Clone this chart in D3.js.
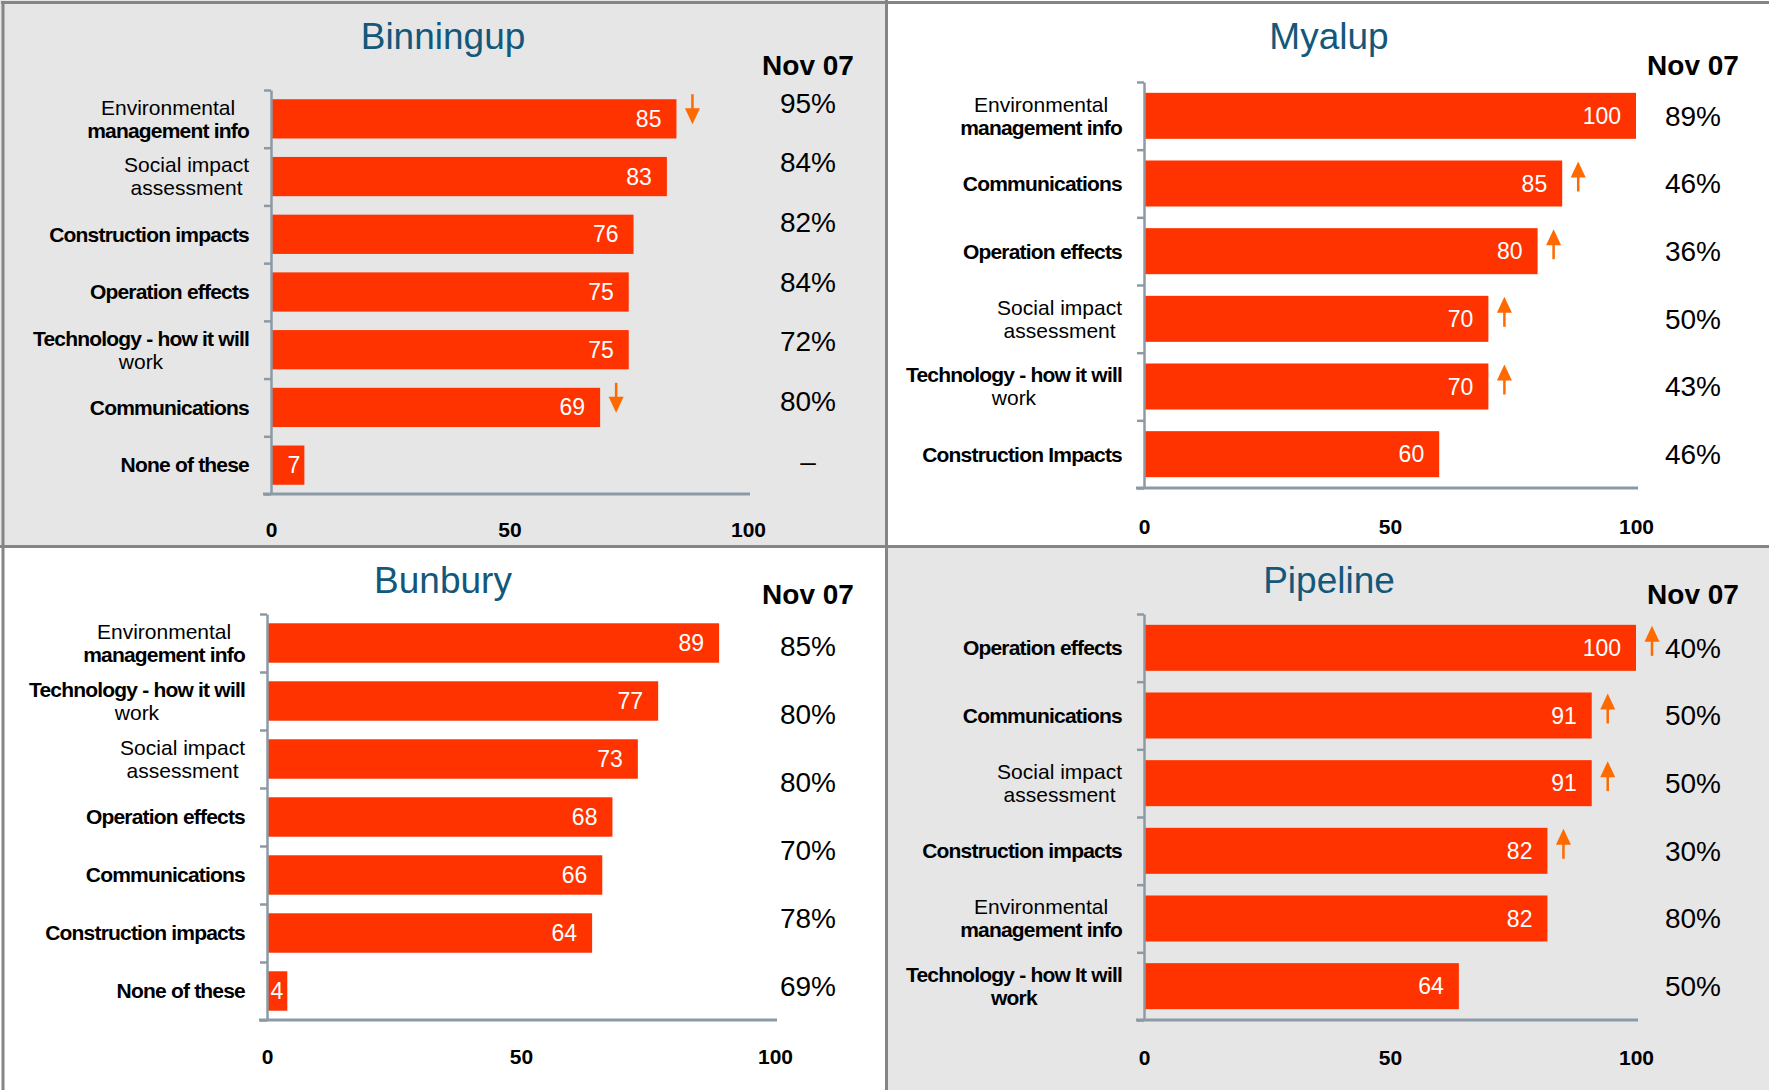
<!DOCTYPE html>
<html>
<head>
<meta charset="utf-8">
<script src="https://cdn.jsdelivr.net/npm/d3@7"></script>
<style>
body { margin: 0; background: #fff; }
svg { display: block; font-family: "Liberation Sans", Arial, sans-serif; }
</style>
</head>
<body>
<svg></svg>
<script>
var width = 1769,
    height = 1090;

// ---- data ----
var titles = ["Binningup", "Myalup", "Bunbury", "Pipeline"];
var tickValues = [0, 50, 100];
var periodLabel = "Nov 07";

var binningupCategories = ["Environmental\nmanagement info", "Social impact\nassessment", "Construction impacts",
    "Operation effects", "Technology - how it will\nwork", "Communications", "None of these"];
var binningupValues = [85, 83, 76, 75, 75, 69, 7];
var binningupNov07 = ["95%", "84%", "82%", "84%", "72%", "80%", "–"];
var binningupTrend = ["down", "", "", "", "", "down", ""];

var myalupCategories = ["Environmental\nmanagement info", "Communications", "Operation effects",
    "Social impact\nassessment", "Technology - how it will\nwork", "Construction Impacts"];
var myalupValues = [100, 85, 80, 70, 70, 60];
var myalupNov07 = ["89%", "46%", "36%", "50%", "43%", "46%"];
var myalupTrend = ["", "up", "up", "up", "up", ""];

var bunburyCategories = ["Environmental\nmanagement info", "Technology - how it will\nwork", "Social impact\nassessment",
    "Operation effects", "Communications", "Construction impacts", "None of these"];
var bunburyValues = [89, 77, 73, 68, 66, 64, 4];
var bunburyNov07 = ["85%", "80%", "80%", "70%", "78%", "69%"];
var bunburyTrend = ["", "", "", "", "", "", ""];

var pipelineCategories = ["Operation effects", "Communications", "Social impact\nassessment",
    "Construction impacts", "Environmental\nmanagement info", "Technology - how It will\nwork"];
var pipelineValues = [100, 91, 91, 82, 82, 64];
var pipelineNov07 = ["40%", "50%", "50%", "30%", "80%", "50%"];
var pipelineTrend = ["up", "up", "up", "up", "", ""];

// ---- layout ----
var barColor = "#ff3300",
    arrowColor = "#ff6a00",
    axisColor = "#8c9aa6",
    titleColor = "#13587a",
    borderColor = "#858585",
    grayBg = "#e6e6e6";

var panels = [
    { title: titles[0], categories: binningupCategories, values: binningupValues, nov07: binningupNov07, trend: binningupTrend,
      box: [0, 0, 886, 546], bg: grayBg, axisX: 271, axisTop: 90, axisBottom: 494, x100: 748,
      pctX: 808, pctRange: [103, 461], titleX: 443, titleY: 36, novY: 65, tickY: 529,
      plain: ["Environmental", "Social impact", "assessment", "work"] },
    { title: titles[1], categories: myalupCategories, values: myalupValues, nov07: myalupNov07, trend: myalupTrend,
      box: [886, 0, 883, 546], bg: "#fff", axisX: 1144, axisTop: 82, axisBottom: 488, x100: 1636,
      pctX: 1693, pctRange: null, titleX: 1329, titleY: 36, novY: 65, tickY: 526,
      plain: ["Environmental", "Social impact", "assessment", "work"] },
    { title: titles[2], categories: bunburyCategories, values: bunburyValues, nov07: bunburyNov07, trend: bunburyTrend,
      box: [0, 546, 886, 544], bg: "#fff", axisX: 267, axisTop: 614, axisBottom: 1020, x100: 775,
      pctX: 808, pctRange: [646, 986], titleX: 443, titleY: 580, novY: 594, tickY: 1056,
      plain: ["Environmental", "Social impact", "assessment", "work"] },
    { title: titles[3], categories: pipelineCategories, values: pipelineValues, nov07: pipelineNov07, trend: pipelineTrend,
      box: [886, 546, 883, 544], bg: grayBg, axisX: 1144, axisTop: 614, axisBottom: 1020, x100: 1636,
      pctX: 1693, pctRange: null, titleX: 1329, titleY: 580, novY: 594, tickY: 1057,
      plain: ["Environmental", "Social impact", "assessment"] }
];

var svg = d3.select("svg")
    .attr("width", width)
    .attr("height", height);

function drawLabel(g, text, xRight, yCenter, plain) {
    var lines = text.split("\n");
    var lineH = 23;
    var texts = lines.map(function (line, i) {
        var isPlain = plain.indexOf(line) >= 0;
        return g.append("text")
            .attr("y", yCenter + (i - (lines.length - 1) / 2) * lineH)
            .attr("dy", ".35em")
            .attr("text-anchor", "middle")
            .attr("font-size", 21)
            .attr("font-weight", isPlain ? "normal" : "bold")
            .attr("letter-spacing", isPlain ? "0px" : "-0.8px")
            .attr("fill", "#000")
            .text(line);
    });
    var maxW = d3.max(texts, function (s) { return s.node().getComputedTextLength(); });
    texts.forEach(function (s) { s.attr("x", xRight - maxW / 2); });
}

function drawArrow(g, x, barTop, dir) {
    var len = 30, headH = 16, headW = 15;
    var tip = dir === "up" ? barTop + 1 : barTop + 25;
    var s = dir === "up" ? 1 : -1;
    g.append("line")
        .attr("x1", x).attr("x2", x)
        .attr("y1", tip + s * headH * 0.8).attr("y2", tip + s * len)
        .attr("stroke", arrowColor)
        .attr("stroke-width", 2.5);
    g.append("path")
        .attr("d", "M" + x + "," + tip +
            "L" + (x + headW / 2) + "," + (tip + s * headH) +
            "L" + (x - headW / 2) + "," + (tip + s * headH) + "Z")
        .attr("fill", arrowColor);
}

function drawPanel(p) {
    var g = svg.append("g").attr("class", "panel");

    g.append("rect")
        .attr("x", p.box[0]).attr("y", p.box[1])
        .attr("width", p.box[2]).attr("height", p.box[3])
        .attr("fill", p.bg);

    var n = p.categories.length;
    var x = d3.scaleLinear().domain([0, 100]).range([p.axisX, p.x100]);
    var y = d3.scaleBand()
        .domain(d3.range(n))
        .range([p.axisTop, p.axisBottom])
        .paddingInner(0.32)
        .paddingOuter(0.16);

    // title and column header
    g.append("text")
        .attr("x", p.titleX).attr("y", p.titleY)
        .attr("dy", ".35em")
        .attr("text-anchor", "middle")
        .attr("font-size", 37)
        .attr("fill", titleColor)
        .text(p.title);

    g.append("text")
        .attr("x", p.pctX).attr("y", p.novY)
        .attr("dy", ".35em")
        .attr("text-anchor", "middle")
        .attr("font-size", 28)
        .attr("font-weight", "bold")
        .attr("fill", "#000")
        .text(periodLabel);

    // bars
    g.selectAll("rect.bar")
        .data(p.values)
        .enter()
        .append("rect")
        .attr("class", "bar")
        .attr("x", x(0))
        .attr("y", function (d, i) { return y(i); })
        .attr("width", function (d) { return x(d) - x(0); })
        .attr("height", y.bandwidth())
        .attr("fill", barColor);

    g.selectAll("text.val")
        .data(p.values)
        .enter()
        .append("text")
        .attr("class", "val")
        .attr("x", function (d) { return x(d) - (x(d) - x(0) < 50 ? 4 : 15); })
        .attr("y", function (d, i) { return y(i) + y.bandwidth() / 2; })
        .attr("dy", ".35em")
        .attr("text-anchor", "end")
        .attr("font-size", 23)
        .attr("fill", "#fff")
        .text(function (d) { return d; });

    // trend arrows
    p.values.forEach(function (d, i) {
        if (p.trend[i]) drawArrow(g, x(d) + 16, y(i), p.trend[i]);
    });

    // category labels
    p.categories.forEach(function (c, i) {
        drawLabel(g, c, p.axisX - 22, y(i) + y.bandwidth() / 2, p.plain);
    });

    // y axis with ticks on band boundaries
    var yEdge = d3.scaleLinear().domain([0, n]).range([p.axisTop, p.axisBottom]);
    var yAxis = g.append("g")
        .attr("transform", "translate(" + p.axisX + ",0)")
        .call(d3.axisLeft(yEdge).tickValues(d3.range(n + 1)).tickSize(7).tickSizeOuter(0).tickFormat(""));
    yAxis.selectAll("path, line").attr("stroke", axisColor).attr("stroke-width", 2.5);

    // x axis
    g.append("line")
        .attr("x1", p.axisX - 8).attr("x2", p.x100 + 2)
        .attr("y1", p.axisBottom).attr("y2", p.axisBottom)
        .attr("stroke", axisColor)
        .attr("stroke-width", 3);

    var xAxis = g.append("g")
        .attr("transform", "translate(0," + p.axisBottom + ")")
        .call(d3.axisBottom(x).tickValues(tickValues).tickSize(0).tickPadding(p.tickY - p.axisBottom - 7));
    xAxis.select(".domain").remove();
    xAxis.selectAll("text")
        .attr("font-size", 21)
        .attr("font-weight", "bold")
        .attr("font-family", "\"Liberation Sans\", Arial, sans-serif")
        .attr("fill", "#000");

    // Nov 07 column
    var pctY = p.pctRange
        ? d3.scalePoint().domain(d3.range(p.nov07.length)).range(p.pctRange)
        : function (i) { return y(i) + y.bandwidth() / 2; };

    g.selectAll("text.pct")
        .data(p.nov07)
        .enter()
        .append("text")
        .attr("class", "pct")
        .attr("x", p.pctX)
        .attr("y", function (d, i) { return pctY(i); })
        .attr("dy", ".35em")
        .attr("text-anchor", "middle")
        .attr("font-size", 28)
        .attr("fill", "#000")
        .text(function (d) { return d; });
}

panels.forEach(drawPanel);

// panel dividers and outer border
svg.append("line")
    .attr("x1", 886.5).attr("x2", 886.5).attr("y1", 0).attr("y2", height)
    .attr("stroke", borderColor).attr("stroke-width", 3);
svg.append("line")
    .attr("x1", 0).attr("x2", width).attr("y1", 546.5).attr("y2", 546.5)
    .attr("stroke", borderColor).attr("stroke-width", 3);
svg.append("line")
    .attr("x1", 3).attr("x2", 3).attr("y1", 1).attr("y2", height)
    .attr("stroke", borderColor).attr("stroke-width", 3);
svg.append("line")
    .attr("x1", 1).attr("x2", width).attr("y1", 2.5).attr("y2", 2.5)
    .attr("stroke", borderColor).attr("stroke-width", 3);
</script>
</body>
</html>
